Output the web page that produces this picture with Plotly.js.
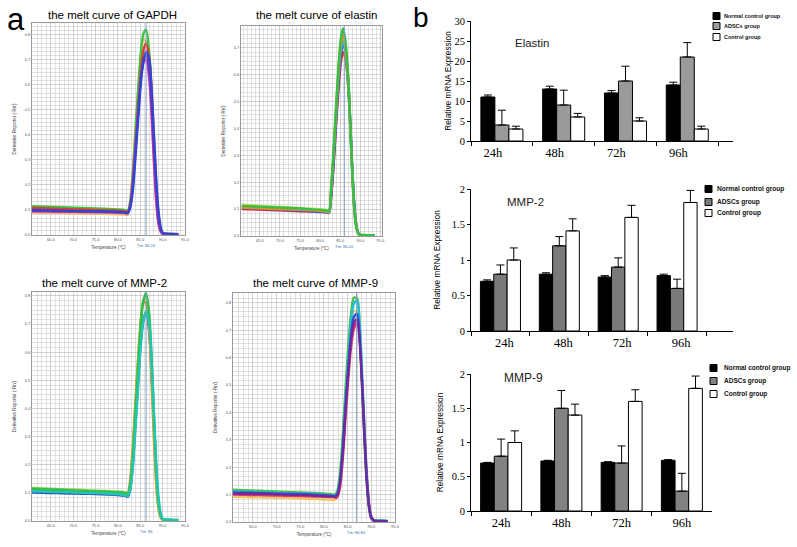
<!DOCTYPE html>
<html><head><meta charset="utf-8">
<script src="https://cdn.plot.ly/plotly-3.0.1.min.js"></script>
<style>html,body{margin:0;padding:0;background:#fff}#chart{width:797px;height:547px}</style>
</head><body><div id="chart"></div>
<script>
// ---------------- DATA ----------------
// melt curves (panel a): temperature (°C) and derivative reporter (-Rn')
const meltTemps = [60.5, 63, 66, 69, 72, 75, 78, 80, 81.5, 82.2, 82.75, 83.35, 83.95, 84.55, 85.15, 85.7, 86.3, 87.0, 87.55, 88.05, 88.55, 89.05, 89.55, 90.0, 90.6, 92, 93.5];

const gapdhOrange  = [.090,.089,.088,.087,.086,.085,.084,.083,.082,.081,.134,.258,.428,.584,.719,.779,.774,.672,.490,.292,.134,.047,.013,.004,.003,.002,.002];
const gapdhGreen   = [.115,.114,.112,.110,.108,.106,.104,.102,.100,.098,.134,.249,.422,.588,.732,.804,.820,.730,.550,.344,.164,.057,.016,.005,.005,.004,.003];
const gapdhRed     = [.108,.107,.105,.103,.102,.100,.098,.097,.095,.093,.118,.208,.357,.513,.655,.736,.766,.708,.570,.385,.208,.085,.027,.008,.005,.004,.003];
const gapdhMagenta = [.094,.094,.093,.093,.092,.091,.090,.089,.088,.086,.117,.215,.362,.504,.626,.688,.700,.623,.469,.294,.140,.049,.014,.004,.003,.002,.002];
const gapdhPurple  = [.097,.097,.096,.095,.094,.094,.093,.092,.091,.089,.115,.203,.348,.493,.625,.695,.720,.655,.511,.338,.173,.065,.022,.006,.004,.003,.002];
const gapdhBlue    = [.100,.099,.098,.097,.096,.095,.093,.092,.090,.088,.108,.179,.316,.469,.610,.694,.733,.703,.577,.403,.229,.100,.033,.010,.005,.004,.003];

const elastinYellow = [.116,.114,.111,.109,.107,.104,.101,.099,.097,.094,.181,.315,.473,.617,.725,.762,.715,.581,.398,.222,.092,.031,.008,.003,.003,.002,.002];
const elastinRed    = [.100,.099,.097,.095,.094,.092,.091,.089,.088,.086,.146,.261,.406,.539,.642,.684,.659,.552,.393,.228,.104,.035,.010,.004,.003,.003,.002];
const elastinBlue   = [.104,.102,.100,.098,.096,.094,.092,.090,.088,.086,.149,.270,.422,.562,.669,.714,.688,.576,.410,.238,.108,.036,.010,.004,.003,.003,.002];
const elastinCyan   = [.108,.106,.104,.102,.100,.098,.096,.094,.091,.086,.170,.299,.450,.588,.691,.727,.683,.555,.380,.212,.088,.029,.008,.003,.003,.002,.002];
const elastinOrange = [.106,.104,.102,.100,.099,.097,.095,.093,.091,.089,.175,.307,.462,.605,.710,.747,.701,.570,.390,.218,.090,.030,.008,.003,.003,.002,.002];
const elastinGreen  = [.112,.110,.108,.106,.104,.102,.099,.097,.095,.092,.181,.317,.478,.625,.734,.772,.725,.589,.403,.225,.093,.031,.009,.004,.004,.003,.003];

const mmp2Blue       = [.101,.100,.099,.098,.097,.096,.094,.092,.090,.086,.113,.204,.354,.505,.642,.714,.740,.673,.525,.348,.178,.067,.022,.006,.004,.003,.003];
const mmp2Orange     = [.109,.108,.106,.105,.104,.102,.101,.099,.098,.096,.148,.270,.436,.589,.721,.780,.774,.672,.490,.292,.134,.047,.013,.004,.003,.003,.002];
const mmp2LightGreen = [.118,.116,.114,.112,.110,.108,.106,.104,.102,.100,.135,.247,.415,.576,.716,.786,.800,.712,.536,.336,.160,.056,.016,.005,.004,.003,.003];
const mmp2Green      = [.114,.113,.111,.109,.107,.105,.103,.102,.100,.098,.128,.226,.390,.554,.703,.782,.810,.737,.575,.381,.194,.073,.024,.006,.005,.004,.003];
const mmp2Cyan       = [.106,.105,.103,.102,.100,.099,.097,.095,.092,.088,.110,.194,.333,.485,.631,.710,.747,.701,.570,.390,.218,.090,.030,.008,.006,.005,.004];

const mmp9Yellow = [.092,.091,.090,.089,.088,.086,.084,.083,.081,.080,.091,.149,.282,.450,.605,.710,.770,.766,.663,.484,.289,.133,.047,.013,.005,.004,.003];
const mmp9Green  = [.118,.116,.114,.112,.110,.108,.106,.104,.102,.100,.110,.171,.310,.486,.647,.757,.819,.815,.706,.515,.307,.141,.050,.014,.006,.005,.004];
const mmp9Red    = [.100,.099,.098,.097,.096,.095,.093,.092,.091,.090,.089,.121,.224,.377,.525,.634,.704,.730,.664,.518,.343,.175,.066,.022,.005,.004,.003];
const mmp9Cyan   = [.113,.111,.109,.107,.105,.104,.102,.100,.098,.097,.101,.150,.274,.445,.602,.724,.796,.810,.721,.543,.340,.162,.057,.016,.006,.005,.004];
const mmp9Blue   = [.108,.107,.106,.104,.103,.102,.100,.098,.096,.095,.098,.144,.260,.420,.567,.680,.747,.760,.676,.509,.319,.152,.053,.015,.005,.004,.003];
const mmp9Purple = [.104,.104,.103,.102,.100,.099,.097,.095,.094,.093,.096,.141,.253,.409,.552,.662,.727,.740,.659,.496,.311,.148,.052,.015,.004,.003,.003];

const meltTitles = ['the melt curve of GAPDH', 'the melt curve of elastin', 'the melt curve of MMP-2', 'the melt curve of MMP-9'];
const tmValues = [86.3, 86.0, 86.3, 86.9];
const tmLabels = ['Tm: 86.24', 'Tm: 86.24', 'Tm: 86', 'Tm: 86.84'];

// bar charts (panel b): relative mRNA expression, mean and SD
const timePoints = ['24h', '48h', '72h', '96h'];
const groupNames = ['Normal control group', 'ADSCs group', 'Control group'];

const elastinNormal     = [11, 13, 12, 14];
const elastinNormalErr  = [0.5, 0.7, 0.6, 0.7];
const elastinADSC       = [4, 9, 15, 21];
const elastinADSCErr    = [3.7, 3.7, 3.7, 3.6];
const elastinControl    = [3, 6, 5, 3];
const elastinControlErr = [0.7, 0.9, 0.8, 0.7];

const mmp2Normal     = [0.70, 0.80, 0.76, 0.78];
const mmp2NormalErr  = [0.02, 0.02, 0.02, 0.02];
const mmp2ADSC       = [0.80, 1.20, 0.90, 0.60];
const mmp2ADSCErr    = [0.13, 0.13, 0.13, 0.13];
const mmp2Control    = [1.00, 1.41, 1.60, 1.81];
const mmp2ControlErr = [0.17, 0.17, 0.17, 0.17];

const mmp9Normal     = [0.70, 0.73, 0.71, 0.74];
const mmp9NormalErr  = [0.01, 0.01, 0.01, 0.01];
const mmp9ADSC       = [0.80, 1.50, 0.70, 0.29];
const mmp9ADSCErr    = [0.25, 0.26, 0.25, 0.26];
const mmp9Control    = [1.00, 1.40, 1.60, 1.79];
const mmp9ControlErr = [0.17, 0.16, 0.17, 0.18];

const barChartNames = ['Elastin', 'MMP-2', 'MMP-9'];

// ---------------- LAYOUT / STYLE ----------------
const W = 797, H = 547;
const fx = p => p / W;
const fy = p => 1 - p / H;
const SANS = 'Liberation Sans, Arial, sans-serif';
const SERIF = 'Liberation Serif, Times New Roman, serif';

const traces = [];
const shapes = [];
const annotations = [];
const layout = {
  width: W, height: H, margin: {l: 0, r: 0, t: 0, b: 0},
  paper_bgcolor: '#fff', plot_bgcolor: '#fff', showlegend: false,
  font: {family: SANS, color: '#000'},
  barmode: 'group', bargap: 0.32, bargroupgap: 0
};

// melt plot panels
const meltPanels = [
  {n: 1, xpx: [32, 185],  ypx: [23, 235],  xr: [60.8, 95],   yr: [0, 0.847], tpx: [112, 15],
   curves: [[gapdhOrange,'#f4b860'],[gapdhGreen,'#3cc43c'],[gapdhRed,'#e23a32'],[gapdhMagenta,'#d040c8'],[gapdhPurple,'#8a2fb0'],[gapdhBlue,'#3046d0']]},
  {n: 2, xpx: [241, 382], ypx: [26, 236],  xr: [60.3, 95.4], yr: [0, 0.78],  tpx: [316, 15],
   curves: [[elastinYellow,'#b8d850'],[elastinRed,'#e03040'],[elastinBlue,'#3050d0'],[elastinCyan,'#22b4d0'],[elastinOrange,'#f08a28'],[elastinGreen,'#34c044']]},
  {n: 3, xpx: [32, 185],  ypx: [292, 521], xr: [60.8, 95],   yr: [0, 0.814], tpx: [104, 283],
   curves: [[mmp2Blue,'#2456c0'],[mmp2Orange,'#f07a22'],[mmp2LightGreen,'#7ad050'],[mmp2Green,'#2fbf4a'],[mmp2Cyan,'#22c4b4']]},
  {n: 4, xpx: [233, 395], ypx: [293, 522], xr: [60.8, 95],   yr: [0, 0.836], tpx: [315, 283],
   curves: [[mmp9Yellow,'#f2c65a'],[mmp9Green,'#44c040'],[mmp9Red,'#e0306a'],[mmp9Cyan,'#22c0d8'],[mmp9Blue,'#3050d0'],[mmp9Purple,'#6a2aa0']]}
];

meltPanels.forEach((p, i) => {
  const xs = 'x' + (p.n > 1 ? p.n : ''), ys = 'y' + (p.n > 1 ? p.n : '');
  const xk = 'xaxis' + (p.n > 1 ? p.n : ''), yk = 'yaxis' + (p.n > 1 ? p.n : '');
  layout[xk] = {
    domain: [fx(p.xpx[0]), fx(p.xpx[1])], range: p.xr, anchor: ys,
    tick0: 60, dtick: 5, tickformat: '.1f', ticks: '',
    showgrid: true, gridcolor: '#bdbdbd', gridwidth: 0.7,
    minor: {dtick: 1, showgrid: true, gridcolor: '#cfcfcf', gridwidth: 0.6},
    showline: true, mirror: true, linecolor: '#9a9a9a', linewidth: 1, zeroline: false,
    tickfont: {size: 4, color: '#555'},
    title: {text: 'Temperature (°C)', font: {size: 4.5, color: '#444'}, standoff: 5}
  };
  layout[yk] = {
    domain: [fy(p.ypx[1]), fy(p.ypx[0])], range: p.yr, anchor: xs,
    dtick: 0.1, tickformat: '.1f', ticks: '',
    showgrid: true, gridcolor: '#bdbdbd', gridwidth: 0.7,
    minor: {dtick: 0.1 / 6, showgrid: true, gridcolor: '#cfcfcf', gridwidth: 0.6},
    showline: true, mirror: true, linecolor: '#9a9a9a', linewidth: 1, zeroline: false,
    tickfont: {size: 4, color: '#555'},
    title: {text: "Derivative Reporter (-Rn')", font: {size: 4.5, color: '#444'}, standoff: 8}
  };
  p.curves.forEach(c => {
    traces.push({type: 'scatter', mode: 'lines', x: meltTemps, y: c[0], xaxis: xs, yaxis: ys,
      line: {color: c[1], width: 2.4, shape: 'spline', smoothing: 0.8}, hoverinfo: 'skip'});
  });
  shapes.push({type: 'line', xref: xs, yref: ys + ' domain', x0: tmValues[i], x1: tmValues[i], y0: 0, y1: 1,
    line: {color: '#7f9ec4', width: 1}, layer: 'above'});
  annotations.push({xref: xs, yref: ys + ' domain', x: tmValues[i], y: 0, yanchor: 'top', yshift: -6,
    text: tmLabels[i], showarrow: false, font: {size: 4, color: '#3a6fb5'}});
  annotations.push({xref: 'paper', yref: 'paper', x: fx(p.tpx[0]), y: fy(p.tpx[1]), xanchor: 'center', yanchor: 'middle',
    text: meltTitles[i], showarrow: false, font: {size: 11.5, color: '#000', family: SANS}});
});

// bar chart panels
const barPanels = [
  {n: 5, xpx: [471, 733], ypx: [21, 141],  xr: [-0.5, 3.74], yr: [0, 30], dtick: 5, shift: -9,
   series: [[elastinNormal, elastinNormalErr], [elastinADSC, elastinADSCErr], [elastinControl, elastinControlErr]],
   gray: '#9a9a9a', titlePx: [532, 43], titleSize: 11.5, titleStandoff: 1,
   legend: {sx: 713, tx: 722, ys: [16, 26, 37], size: 5.5}},
  {n: 6, xpx: [471, 733], ypx: [189, 331], xr: [-0.5, 3.95], yr: [0, 2], dtick: 0.5, shift: 4,
   series: [[mmp2Normal, mmp2NormalErr], [mmp2ADSC, mmp2ADSCErr], [mmp2Control, mmp2ControlErr]],
   gray: '#7a7a7a', titlePx: [525, 202], titleSize: 11.5, titleStandoff: 9,
   legend: {sx: 705, tx: 715, ys: [189, 202, 213], size: 6.6}},
  {n: 7, xpx: [471, 712], ypx: [374, 511], xr: [-0.5, 3.5], yr: [0, 2], dtick: 0.5, shift: 0,
   series: [[mmp9Normal, mmp9NormalErr], [mmp9ADSC, mmp9ADSCErr], [mmp9Control, mmp9ControlErr]],
   gray: '#828282', titlePx: [523, 378], titleSize: 12, titleStandoff: 6,
   legend: {sx: 710, tx: 722, ys: [368, 381, 394], size: 6.5}}
];

barPanels.forEach((p, i) => {
  const xs = 'x' + p.n, ys = 'y' + p.n;
  layout['xaxis' + p.n] = {
    domain: [fx(p.xpx[0]), fx(p.xpx[1])], range: p.xr, anchor: ys, type: 'category',
    showline: true, linecolor: '#000', linewidth: 1, zeroline: false, showgrid: false,
    ticks: 'outside', tickson: 'boundaries', ticklen: 4, tickcolor: '#000', tickwidth: 1,
    tickfont: {family: SERIF, size: 12.5, color: '#000'}, ticklabelshift: p.shift
  };
  layout['yaxis' + p.n] = {
    domain: [fy(p.ypx[1]), fy(p.ypx[0])], range: p.yr, anchor: xs, dtick: p.dtick,
    showline: true, linecolor: '#000', linewidth: 1, zeroline: false, showgrid: false,
    ticks: 'outside', ticklen: 3, tickcolor: '#000',
    tickfont: {family: SERIF, size: 10.5, color: '#000'},
    title: {text: 'Relative mRNA Expression', font: {family: SANS, size: 8.3, color: '#000'}, standoff: p.titleStandoff}
  };
  const fills = ['#000000', p.gray, '#ffffff'];
  p.series.forEach((s, k) => {
    traces.push({type: 'bar', name: groupNames[k], x: timePoints, y: s[0], xaxis: xs, yaxis: ys,
      marker: {color: fills[k], line: {color: '#000', width: 1}},
      error_y: {type: 'data', symmetric: false, array: s[1], color: '#000', thickness: 1, width: 4},
      hoverinfo: 'skip'});
    const L = p.legend;
    shapes.push({type: 'rect', xref: 'paper', yref: 'paper',
      x0: fx(L.sx), x1: fx(L.sx + 7), y0: fy(L.ys[k] + 3.5), y1: fy(L.ys[k] - 3.5),
      fillcolor: fills[k], line: {color: '#000', width: 1}});
    annotations.push({xref: 'paper', yref: 'paper', x: fx(L.tx), y: fy(L.ys[k]), xanchor: 'left', yanchor: 'middle',
      text: groupNames[k], showarrow: false, font: {family: SANS, size: L.size, color: '#111', weight: 'bold'}});
  });
  annotations.push({xref: 'paper', yref: 'paper', x: fx(p.titlePx[0]), y: fy(p.titlePx[1]), xanchor: 'center', yanchor: 'middle',
    text: barChartNames[i], showarrow: false, font: {family: SANS, size: p.titleSize, color: '#222'}});
});

// panel letters
annotations.push({xref: 'paper', yref: 'paper', x: fx(16), y: 1, xanchor: 'center', yanchor: 'top',
  text: 'a', showarrow: false, font: {family: SANS, size: 31, color: '#000'}});
annotations.push({xref: 'paper', yref: 'paper', x: fx(421), y: 1, xanchor: 'center', yanchor: 'top',
  text: 'b', showarrow: false, font: {family: SANS, size: 28, color: '#000'}});

layout.shapes = shapes;
layout.annotations = annotations;

Plotly.newPlot('chart', traces, layout, {staticPlot: true, displayModeBar: false});
</script></body></html>
